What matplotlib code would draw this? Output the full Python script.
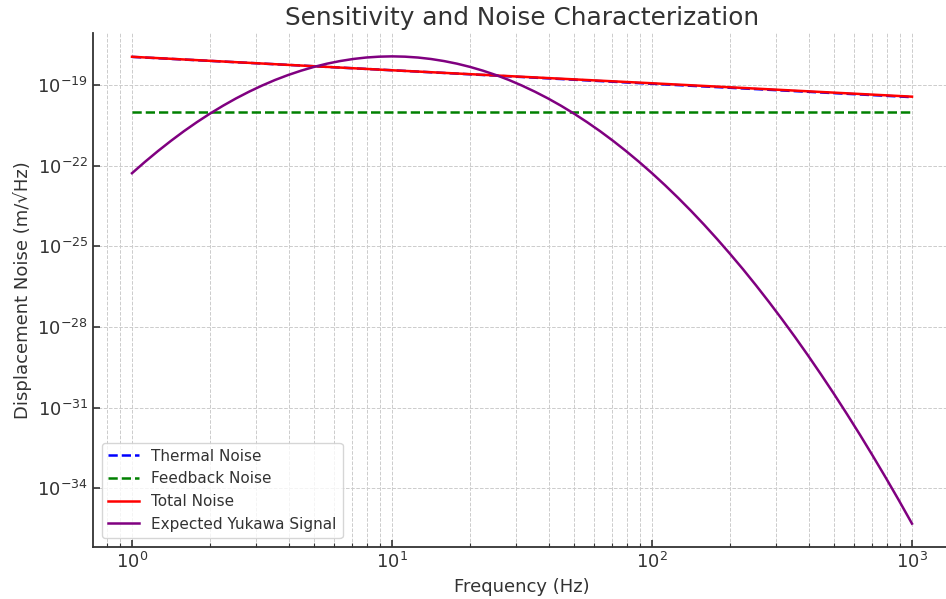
import matplotlib
matplotlib.use("Agg")
import matplotlib.pyplot as plt

# ---- data ----
noise_freq = [1.0, 10.0, 100.0, 1000.0]
thermal_noise = [1.1e-18, 3.5e-19, 1.1e-19, 3.5e-20]
feedback_noise = [1.0e-20, 1.0e-20, 1.0e-20, 1.0e-20]
total_noise = [1.11e-18, 3.5e-19, 1.15e-19, 3.65e-20]

signal_freq = [
    1.0, 1.122, 1.259, 1.413, 1.585, 1.778, 1.995, 2.239, 2.512, 2.818,
    3.162, 3.548, 3.981, 4.467, 5.012, 5.623, 6.310, 7.079, 7.943, 8.913,
    10.0, 11.22, 12.59, 14.13, 15.85, 17.78, 19.95, 22.39, 25.12, 28.18,
    31.62, 35.48, 39.81, 44.67, 50.12, 56.23, 63.10, 70.79, 79.43, 89.13,
    100.0, 112.2, 125.9, 141.3, 158.5, 177.8, 199.5, 223.9, 251.2, 281.8,
    316.2, 354.8, 398.1, 446.7, 501.2, 562.3, 631.0, 707.9, 794.3, 891.3,
    1000.0]
yukawa_signal = [
    5.21e-23, 1.38e-22, 3.48e-22, 8.36e-22, 1.91e-21, 4.14e-21, 8.55e-21, 1.68e-20, 3.14e-20, 5.57e-20,
    9.42e-20, 1.52e-19, 2.32e-19, 3.37e-19, 4.67e-19, 6.15e-19, 7.69e-19, 9.17e-19, 1.04e-18, 1.12e-18,
    1.15e-18, 1.12e-18, 1.04e-18, 9.17e-19, 7.69e-19, 6.15e-19, 4.67e-19, 3.37e-19, 2.32e-19, 1.52e-19,
    9.42e-20, 5.57e-20, 3.14e-20, 1.68e-20, 8.55e-21, 4.14e-21, 1.91e-21, 8.36e-22, 3.48e-22, 1.38e-22,
    5.21e-23, 1.87e-23, 6.38e-24, 2.07e-24, 6.40e-25, 1.88e-25, 5.25e-26, 1.40e-26, 3.53e-27, 8.49e-28,
    1.94e-28, 4.23e-29, 8.75e-30, 1.72e-30, 3.23e-31, 5.75e-32, 9.75e-33, 1.57e-33, 2.41e-34, 3.52e-35,
    4.88e-36]

x_ticks = [1, 10, 100, 1000]
y_ticks = [1e-34, 1e-31, 1e-28, 1e-25, 1e-22, 1e-19]

title = "Sensitivity and Noise Characterization"
xlabel = "Frequency (Hz)"
ylabel = "Displacement Noise (m/√Hz)"

text_color = "#333333"
plt.rcParams.update({
    "font.family": ["DejaVu Sans"],
    "text.color": text_color,
    "axes.labelcolor": text_color,
    "xtick.color": text_color,
    "ytick.color": text_color,
})

fig = plt.figure(figsize=(9.46, 5.99), dpi=100)
ax = fig.add_axes([93 / 946, 52 / 599, 858 / 946, 514 / 599])

ax.plot(noise_freq, thermal_noise, color="blue", linestyle="--", linewidth=1.8, label="Thermal Noise")
ax.plot(noise_freq, feedback_noise, color="green", linestyle="--", linewidth=1.8, label="Feedback Noise")
ax.plot(noise_freq, total_noise, color="red", linestyle="-", linewidth=1.8, label="Total Noise")
ax.plot(signal_freq, yukawa_signal, color="purple", linestyle="-", linewidth=1.8, label="Expected Yukawa Signal")

ax.set_xscale("log")
ax.set_yscale("log")
ylim = ax.get_ylim()
xlim = ax.get_xlim()
ax.set_xticks(x_ticks)
ax.set_yticks(y_ticks)
ax.set_ylim(ylim)
ax.set_xlim(xlim)

ax.set_title(title, fontsize=17.8, color=text_color)
ax.set_xlabel(xlabel, fontsize=13)
ax.set_ylabel(ylabel, fontsize=13)
ax.tick_params(axis="both", which="major", direction="in", labelsize=13, length=5, width=1.2)
ax.tick_params(axis="both", which="minor", direction="in", length=3, width=0.8)

ax.grid(True, which="both", linestyle="--", linewidth=0.7, color="#cccccc")
ax.set_axisbelow(True)

for side in ("top", "right"):
    ax.spines[side].set_visible(False)
for side in ("left", "bottom"):
    ax.spines[side].set_color(text_color)
    ax.spines[side].set_linewidth(1.3)

leg = ax.legend(loc="lower left", fontsize=11, frameon=True, borderaxespad=0.6)
leg.get_frame().set_edgecolor("#cccccc")
for t in leg.get_texts():
    t.set_color(text_color)

fig.savefig("out.png", dpi=100)
